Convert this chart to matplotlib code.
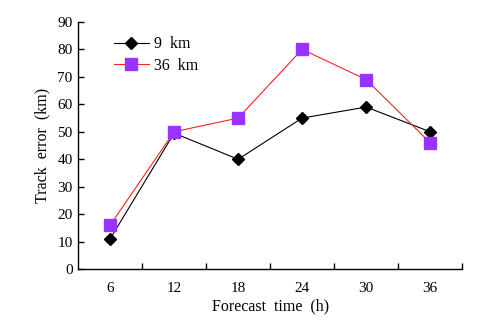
import matplotlib
matplotlib.use('Agg')
import matplotlib.pyplot as plt
import numpy as np

# datos
horas = ['6', '12', '18', '24', '30', '36']
error_9km = [11, 49.5, 40, 55, 59, 50]
error_36km = [16, 50, 55, 80, 69, 46]

plt.rcParams['font.family'] = ['Liberation Serif', 'DejaVu Serif']

fig = plt.figure(figsize=(4.85, 3.27), dpi=100)
ax = fig.add_axes([0.161, 0.177, 0.792, 0.756])

x = np.arange(len(horas))
ax.plot(x, error_9km, color='black', lw=0.8, marker='D', markersize=6.5,
        markerfacecolor='black', markeredgecolor='black', label='9  km')
ax.plot(x, error_36km, color='#ff2020', lw=0.8, marker='s', markersize=9,
        markerfacecolor='#9933ff', markeredgecolor='#9933ff', label='36  km')

ax.set_xlim(-0.5, 5.5)
ax.set_ylim(0, 90)
ax.set_yticks(range(0, 91, 10))
ax.set_xticks(x)
ax.set_xticklabels(horas)
ax.set_xticks(np.arange(0.5, 5.6, 1), minor=True)
ax.tick_params(axis='x', which='major', length=0, labelsize=11, pad=9)
ax.tick_params(axis='x', which='minor', direction='in', length=4, width=1)
ax.tick_params(axis='y', direction='in', length=4, width=1, labelsize=11, pad=4)

for s in ['top', 'right']:
    ax.spines[s].set_visible(False)
for s in ['left', 'bottom']:
    ax.spines[s].set_linewidth(1)

ax.set_xlabel('Forecast  time  (h)', fontsize=11.5, labelpad=3)
ax.set_ylabel('Track  error  (km)', fontsize=11.5, labelpad=5)

ax.legend(loc='upper left', bbox_to_anchor=(0.055, 1.0), frameon=False,
          fontsize=11.5, handlelength=2.2, handletextpad=0.3, labelspacing=0.35)

plt.savefig('out.png', dpi=100)
